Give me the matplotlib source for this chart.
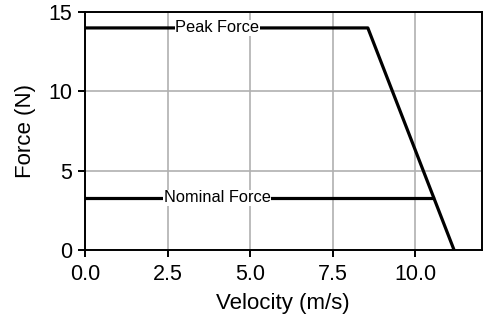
import matplotlib
matplotlib.use("Agg")
import matplotlib.pyplot as plt

plt.rcParams['font.family'] = ['Liberation Sans', 'DejaVu Sans']

# curves (velocity m/s, force N)
peak_v = [0.0, 8.56, 11.17]
peak_f = [14.0, 14.0, 0.0]
nom_v = [0.0, 10.53]
nom_f = [3.3, 3.3]
label_x = 4.0

fig = plt.figure(figsize=(5, 3.26), dpi=100)
ax = fig.add_axes([0.17, 0.233, 0.793, 0.73])

ax.plot(peak_v, peak_f, color="black", lw=2.3)
ax.plot(nom_v, nom_f, color="black", lw=2.3)

ax.text(label_x, 14.0, "Peak Force", fontsize=11.8, ha="center", va="center",
        bbox=dict(facecolor="white", edgecolor="none", pad=0.3))
ax.text(label_x, 3.3, "Nominal Force", fontsize=11.8, ha="center", va="center",
        bbox=dict(facecolor="white", edgecolor="none", pad=0.3))

ax.set_xlim(0, 12)
ax.set_ylim(0, 15)
ax.set_xticks([0, 2.5, 5, 7.5, 10])
ax.set_xticklabels(["0.0", "2.5", "5.0", "7.5", "10.0"])
ax.set_yticks([0, 5, 10, 15])
ax.grid(color="#b0b0b0", lw=1.2)
ax.set_axisbelow(True)
for s in ax.spines.values():
    s.set_linewidth(1.4)
ax.tick_params(labelsize=15.5, width=1.4, length=5)
ax.tick_params(axis="x", pad=5)
ax.tick_params(axis="y", pad=4)
ax.set_xlabel("Velocity (m/s)", fontsize=16, labelpad=6)
ax.set_ylabel("Force (N)", fontsize=16, labelpad=9)

fig.savefig("out.png", dpi=100)
